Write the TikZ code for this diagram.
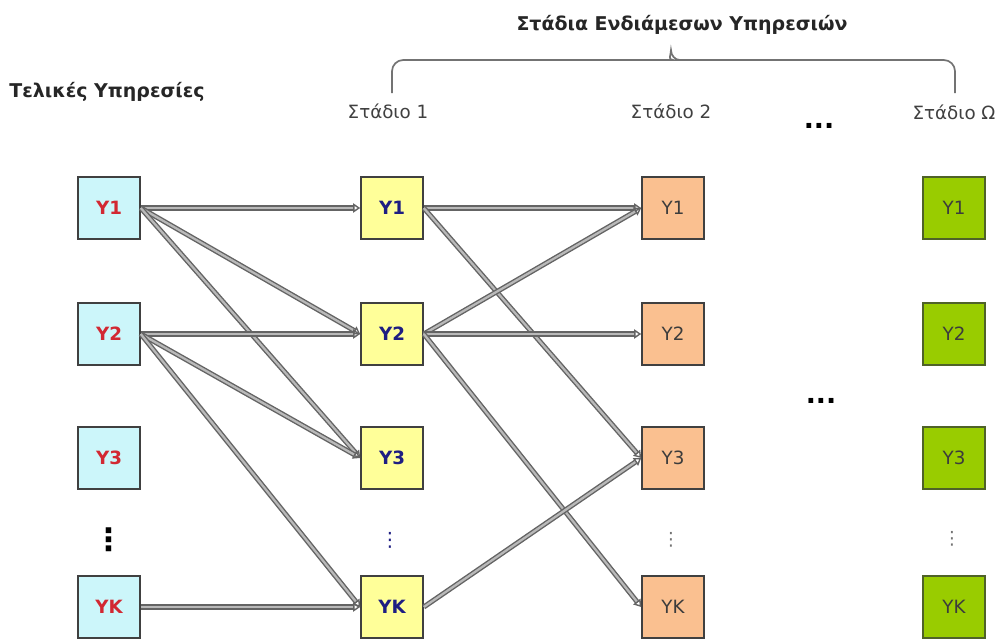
\documentclass[tikz,border=0pt]{standalone}
\usepackage{fontspec}
\setmainfont{DejaVu Sans}
\usetikzlibrary{arrows.meta}

\definecolor{finalfill}{RGB}{204,246,250}
\definecolor{firstfill}{RGB}{255,255,153}
\definecolor{secondfill}{RGB}{250,192,144}
\definecolor{lastfill}{RGB}{153,204,0}
\definecolor{finaltext}{RGB}{210,40,50}
\definecolor{firsttext}{RGB}{30,30,130}
\definecolor{plaintext}{RGB}{60,60,60}
\definecolor{boxline}{RGB}{64,64,64}
\definecolor{greenline}{RGB}{79,98,40}
\definecolor{flowline}{RGB}{100,100,100}
\definecolor{flowfill}{RGB}{185,185,185}

\begin{document}
\begin{tikzpicture}[x=0.025cm, y=-0.025cm, >={Triangle[open, length=5pt, width=6.5pt]},
  service/.style={draw=boxline, line width=1.1pt, minimum size=1.55cm, inner sep=0pt, text=plaintext, font=\fontsize{13}{15}\selectfont},
  final/.style={service, fill=finalfill, text=finaltext, font=\bfseries\fontsize{13}{15}\selectfont},
  first/.style={service, fill=firstfill, text=firsttext, font=\bfseries\fontsize{13}{15}\selectfont},
  second/.style={service, fill=secondfill},
  last/.style={service, draw=greenline, fill=lastfill},
  heading/.style={anchor=base, font=\bfseries\fontsize{13.5}{16}\selectfont, text=black!85},
  stage/.style={anchor=base, font=\fontsize{13}{15}\selectfont, text=black!75},
  more/.style={font=\bfseries\fontsize{19}{20}\selectfont, inner sep=0pt},
  flow/.style={->, draw=flowline, double=flowfill, line width=1pt, double distance=1.6pt},
  bracket/.style={draw=black!55, line width=1.2pt}]
  \useasboundingbox (0,0) rectangle (998,639);

  % headings and the brace over the intermediate stages
  \node[heading] (finals) at (107,97) {Τελικές Υπηρεσίες};
  \node[heading] (stages) at (682,30) {Στάδια Ενδιάμεσων Υπηρεσιών};
  \node[stage] (s1) at (388,118) {Στάδιο 1};
  \node[stage] (s2) at (671,118) {Στάδιο 2};
  \node[stage] (sw) at (954,119) {Στάδιο Ω};
  \node[more] (topdots) at (819,126) {...};
  \node[more] (middots) at (821,401) {...};
  \draw[bracket] (392,93) [rounded corners=8pt] |- (662,60) [sharp corners]
    to[out=0, in=-90] (671,50) to[out=-90, in=180] (680,60) [rounded corners=8pt] -| (955,93);

  % the four columns of services
  \node[final] (f1) at (109,208) {Υ1};
  \node[final] (f2) at (109,334) {Υ2};
  \node[final] (f3) at (109,458) {Υ3};
  \node[final] (fk) at (109,607) {ΥΚ};
  \node[first] (a1) at (392,208) {Υ1};
  \node[first] (a2) at (392,334) {Υ2};
  \node[first] (a3) at (392,458) {Υ3};
  \node[first] (ak) at (392,607) {ΥΚ};
  \node[second] (b1) at (673,208) {Υ1};
  \node[second] (b2) at (673,334) {Υ2};
  \node[second] (b3) at (673,458) {Υ3};
  \node[second] (bk) at (673,607) {ΥΚ};
  \node[last] (w1) at (954,208) {Υ1};
  \node[last] (w2) at (954,334) {Υ2};
  \node[last] (w3) at (954,458) {Υ3};
  \node[last] (wk) at (954,607) {ΥΚ};

  \node[font=\bfseries\fontsize{22}{22}\selectfont, text=black] (fdots) at (109,540) {⋮};
  \node[font=\fontsize{14}{14}\selectfont, text=firsttext] (adots) at (390,540) {⋮};
  \node[font=\fontsize{13}{13}\selectfont, text=black!55] (bdots) at (671,540) {⋮};
  \node[font=\fontsize{13}{13}\selectfont, text=black!55] (wdots) at (952,539) {⋮};

  % demand passed on from stage to stage
  \foreach \from/\to in {f1/a1, f1/a2, f1/a3, f2/a2, f2/a3, f2/ak, fk/ak,
                         a1/b1, a1/b3, a2/b1, a2/b2, a2/bk, ak/b3}
    \draw[flow] (\from.east) -- (\to.west);
\end{tikzpicture}
\end{document}
